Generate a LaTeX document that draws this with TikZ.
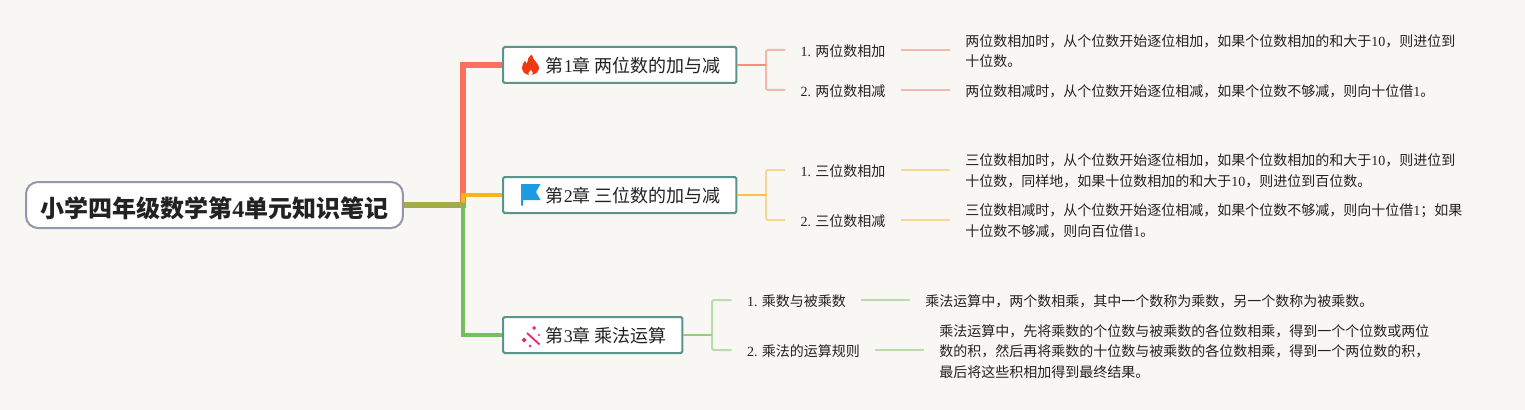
\documentclass[tikz,border=0pt]{standalone}
\usepackage{fontspec}
\setmainfont{Liberation Serif}
\newfontfamily\cjk{Noto Sans CJK SC}
\newcommand{\lat}[1]{{\rmfamily #1}}
\definecolor{paper}{HTML}{F8F7F4}
\definecolor{inkblack}{HTML}{222222}
\definecolor{rootedge}{HTML}{9496B0}
\definecolor{chapedge}{HTML}{5B9488}
\definecolor{rootstub}{HTML}{A3AD45}
\definecolor{redmain}{HTML}{FF705C}
\definecolor{redstem}{HTML}{FA8C7E}
\definecolor{redleaf}{HTML}{F8B6AC}
\definecolor{ambmain}{HTML}{FFB31A}
\definecolor{ambstem}{HTML}{F9C04F}
\definecolor{ambleaf}{HTML}{F9D78E}
\definecolor{grnmain}{HTML}{78BE5E}
\definecolor{grnstem}{HTML}{92CF78}
\definecolor{grnleaf}{HTML}{B9DDA9}
\definecolor{fire}{HTML}{EE3A14}
\definecolor{flagblue}{HTML}{1E9BE0}
\definecolor{wand}{HTML}{E9296E}

\begin{document}
\begin{tikzpicture}[
  x=0.75pt, y=-0.75pt,
  every node/.style={text=inkblack},
  rootbox/.style={draw=rootedge, line width=1.5pt, fill=white, rounded corners=9pt,
    inner xsep=10.85pt, minimum height=34.5pt, text height=20pt, text depth=2pt,
    font=\fontsize{18pt}{22pt}\selectfont\cjk\bfseries},
  chapbox/.style={draw=chapedge, line width=1.5pt, fill=white, rounded corners=1.2pt,
    inner xsep=11.6pt, inner ysep=0pt, minimum height=27pt, text height=13pt, text depth=1.4pt,
    font=\fontsize{13.5pt}{16pt}\selectfont\cjk},
  topic/.style={inner xsep=11.5pt, inner ysep=0pt, text height=10.3pt, text depth=1pt,
    font=\fontsize{10.5pt}{15pt}\selectfont\cjk},
  detail/.style={inner xsep=11.25pt, inner ysep=0pt, align=left, font=\fontsize{10.5pt}{15.5pt}\selectfont\cjk},
  trunk/.style={line width=#1, line join=miter},
  twig/.style={line width=1.5pt, rounded corners=1.5pt},
]

% Background
\fill[paper] (0,0) rectangle (1525,410);

% Root and chapters
\node[rootbox, anchor=west] (root) at (25,205) {小学四年级数学第\lat{4}单元知识笔记};
\node[chapbox, anchor=west] (chapone) at (502,65) {\hspace*{20.6pt}第\lat{1}章 两位数的加与减};
\node[chapbox, anchor=west] (chaptwo) at (502,195) {\hspace*{20.6pt}第\lat{2}章 三位数的加与减};
\node[chapbox, anchor=west] (chapthree) at (502,335) {\hspace*{20.6pt}第\lat{3}章 乘法运算};

% Chapter 1 topics
\node[topic, anchor=west] (addtwo) at (785,50) {\lat{1.} 两位数相加};
\node[topic, anchor=west] (subtwo) at (785,90) {\lat{2.} 两位数相减};
\node[detail, anchor=west] (addtwotext) at (950,51)
  {两位数相加时，从个位数开始逐位相加，如果个位数相加的和大于\lat{10}，则进位到\\十位数。};
\node[detail, anchor=west] (subtwotext) at (950,91)
  {两位数相减时，从个位数开始逐位相减，如果个位数不够减，则向十位借\lat{1}。};

% Chapter 2 topics
\node[topic, anchor=west] (addthree) at (785,170) {\lat{1.} 三位数相加};
\node[topic, anchor=west] (subthree) at (785,220) {\lat{2.} 三位数相减};
\node[detail, anchor=west] (addthreetext) at (950,171)
  {三位数相加时，从个位数开始逐位相加，如果个位数相加的和大于\lat{10}，则进位到\\十位数，同样地，如果十位数相加的和大于\lat{10}，则进位到百位数。};
\node[detail, anchor=west] (subthreetext) at (950,221)
  {三位数相减时，从个位数开始逐位相减，如果个位数不够减，则向十位借\lat{1}；如果\\十位数不够减，则向百位借\lat{1}。};

% Chapter 3 topics
\node[topic, anchor=west] (factor) at (731.5,300) {\lat{1.} 乘数与被乘数};
\node[topic, anchor=west] (rule) at (731.5,350) {\lat{2.} 乘法的运算规则};
\node[detail, anchor=west] (factortext) at (910,301)
  {乘法运算中，两个数相乘，其中一个数称为乘数，另一个数称为被乘数。};
\node[detail, anchor=west] (ruletext) at (924,351.5)
  {乘法运算中，先将乘数的个位数与被乘数的各位数相乘，得到一个个位数或两位\\数的积，然后再将乘数的十位数与被乘数的各位数相乘，得到一个两位数的积，\\最后将这些积相加得到最终结果。};

% Junctions
\coordinate (hub) at (463,205);
\coordinate (forkone) at (766,65);
\coordinate (forktwo) at (766,195);
\coordinate (forkthree) at (712,335);

% Main branches
\draw[redmain, trunk=4.2pt] (root.east) -- (hub) |- (chapone.west);
\draw[ambmain, trunk=3pt] (root.east) -- (hub) |- (chaptwo.west);
\draw[grnmain, trunk=3pt] (root.east) -- (hub) |- (chapthree.west);
\draw[rootstub, trunk=3.8pt] (root.east) -- (hub);

% Forks
\draw[redleaf, twig] (addtwo.west) -| (forkone) |- (subtwo.west);
\draw[redstem, twig] (chapone.east) -- (forkone);
\draw[ambleaf, twig] (addthree.west) -| (forktwo) |- (subthree.west);
\draw[ambstem, twig] (chaptwo.east) -- (forktwo);
\draw[grnleaf, twig] (factor.west) -| (forkthree) |- (rule.west);
\draw[grnstem, twig] (chapthree.east) -- (forkthree);

% Stubs
\draw[redleaf, twig] (addtwo.east) -- (addtwotext.west |- addtwo.east);
\draw[redleaf, twig] (subtwo.east) -- (subtwotext.west |- subtwo.east);
\draw[ambleaf, twig] (addthree.east) -- (addthreetext.west |- addthree.east);
\draw[ambleaf, twig] (subthree.east) -- (subthreetext.west |- subthree.east);
\draw[grnleaf, twig] (factor.east) -- (factortext.west |- factor.east);
\draw[grnleaf, twig] (rule.east) -- (ruletext.west |- rule.east);

% Fire icon
\fill[fire] (530,75) .. controls (525,75) and (522,71.5) .. (522,67.5)
  .. controls (522,64.5) and (524,62.5) .. (525,60.5) .. controls (525.5,62) and (526,63) .. (527,63.5)
  .. controls (527,60) and (528.5,56.5) .. (532,54.5) .. controls (532,58) and (534,59.5) .. (536,62)
  .. controls (538,64.5) and (539,66) .. (539,68) .. controls (539,72) and (535,75) .. (530,75) -- cycle;
\fill[white] (530.5,75) .. controls (532,75) and (533,74) .. (532.7,72.8)
  .. controls (532.4,71.8) and (531.4,71) .. (531,70) .. controls (530.4,71.3) and (528.4,72) .. (528.4,73.4)
  .. controls (528.4,74.3) and (529.4,75) .. (530.5,75) -- cycle;

% Flag icon
\fill[flagblue] (521,184) -- (540.5,184) -- (536,192) -- (540.5,200) -- (523,200) -- (523,205.5) -- (521,205.5) -- cycle;

% Wand icon
\draw[wand, line width=1.4pt] (527,333) -- (539.5,344.5);
\fill[wand] (524,337.5) -- (526.5,340) -- (524,342.5) -- (521.5,340) -- cycle;
\fill[wand] (530,344.5) -- (531.5,346) -- (530,347.5) -- (528.5,346) -- cycle;
\fill[wand] (534,326) -- (536,328) -- (534,330) -- (532,328) -- cycle;
\fill[wand] (539,333.8) -- (540.2,335) -- (539,336.2) -- (537.8,335) -- cycle;

\end{tikzpicture}
\end{document}
